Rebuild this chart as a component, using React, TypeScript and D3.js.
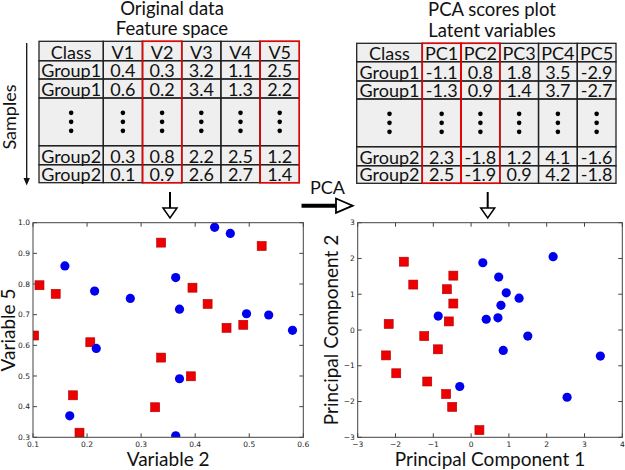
import * as d3 from "d3";

// ---- table data ----
const origTitle = ["Original data", "Feature space"];
const origHeaders = ["Class", "V1", "V2", "V3", "V4", "V5"];
const origRows = [
  ["Group1", "0.4", "0.3", "3.2", "1.1", "2.5"],
  ["Group1", "0.6", "0.2", "3.4", "1.3", "2.2"],
  null,
  ["Group2", "0.3", "0.8", "2.2", "2.5", "1.2"],
  ["Group2", "0.1", "0.9", "2.6", "2.7", "1.4"],
];
const origHighlight = ["V2", "V5"];

const pcaTitle = ["PCA scores plot", "Latent variables"];
const pcaHeaders = ["Class", "PC1", "PC2", "PC3", "PC4", "PC5"];
const pcaRows = [
  ["Group1", "-1.1", "0.8", "1.8", "3.5", "-2.9"],
  ["Group1", "-1.3", "0.9", "1.4", "3.7", "-2.7"],
  null,
  ["Group2", "2.3", "-1.8", "1.2", "4.1", "-1.6"],
  ["Group2", "2.5", "-1.9", "0.9", "4.2", "-1.8"],
];
const pcaHighlight = ["PC1", "PC2"];

// ---- scatter data ----
const var2Group1 = [0.337, 0.523, 0.112, 0.142, 0.395, 0.423, 0.458, 0.489, 0.102, 0.206, 0.337, 0.392, 0.174, 0.326, 0.186];
const var5Group1 = [0.935, 0.924, 0.796, 0.768, 0.788, 0.735, 0.657, 0.667, 0.632, 0.61, 0.56, 0.499, 0.437, 0.398, 0.315];
const var2Group2 = [0.436, 0.465, 0.159, 0.364, 0.214, 0.28, 0.371, 0.495, 0.536, 0.58, 0.217, 0.371, 0.168, 0.364];
const var5Group2 = [0.985, 0.965, 0.859, 0.821, 0.777, 0.753, 0.718, 0.703, 0.699, 0.649, 0.59, 0.491, 0.37, 0.305];

const pc1Group1 = [-1.78, -1.53, -0.47, -0.64, -0.47, -2.18, -0.59, -1.24, -0.88, -2.25, -1.98, -1.16, -0.66, -0.5, 0.22];
const pc2Group1 = [1.91, 1.27, 1.52, 1.14, 0.74, 0.17, 0.24, -0.17, -0.54, -0.71, -1.21, -1.44, -1.79, -2.15, -2.8];
const pc1Group2 = [0.31, 2.17, 0.73, 0.93, 1.27, 0.79, -0.87, 0.4, 0.71, 1.5, 0.85, 3.42, -0.3, 2.54];
const pc2Group2 = [1.88, 2.05, 1.48, 1.04, 0.89, 0.69, 0.39, 0.3, 0.34, -0.17, -0.57, -0.73, -1.58, -1.88];

const leftXTicks = [0.1, 0.2, 0.3, 0.4, 0.5, 0.6];
const leftYTicks = [0.3, 0.4, 0.5, 0.6, 0.7, 0.8, 0.9, 1.0];
const rightXTicks = [-3, -2, -1, 0, 1, 2, 3, 4];
const rightYTicks = [-3, -2, -1, 0, 1, 2, 3];

const FONT = "Lato, 'Open Sans', sans-serif";
const TICK_FONT = "'DejaVu Sans', sans-serif";
const RED = "#ee0000";
const BLUE = "#0000ee";

type TableProps = {
  x0: number;
  classRight: number;
  x1: number;
  top: number;
  rowHeights: number[];
  headers: string[];
  rows: (string[] | null)[];
  highlight: string[];
  title: string[];
  titleX: number;
  titleY: number[];
};

function Table(p: TableProps) {
  const band = d3.scaleBand().domain(p.headers.slice(1)).range([p.classRight, p.x1]);
  const colLeft = (i: number) => (i === 0 ? p.x0 : band(p.headers[i])!);
  const colW = (i: number) => (i === 0 ? p.classRight - p.x0 : band.bandwidth());
  const ys = [p.top];
  p.rowHeights.forEach((h) => ys.push(ys[ys.length - 1] + h));
  const allRows: (string[] | null)[] = [p.headers, ...p.rows];
  const bottom = ys[ys.length - 1];
  return (
    <g>
      {p.title.map((t, i) => (
        <text key={t} x={p.titleX} y={p.titleY[i]} textAnchor="middle" fontFamily={FONT} fontSize={18.5} fill="#111">
          {t}
        </text>
      ))}
      <rect x={p.x0} y={p.top} width={p.x1 - p.x0} height={bottom - p.top} fill="#efefef" />
      {allRows.map((row, r) =>
        p.headers.map((_, c) => {
          const cx = colLeft(c) + colW(c) / 2;
          return (
            <g key={`${r}-${c}`}>
              <rect x={colLeft(c)} y={ys[r]} width={colW(c)} height={ys[r + 1] - ys[r]} fill="none" stroke="#222" strokeWidth={1.3} />
              {row ? (
                <text x={cx} y={ys[r + 1] - 2.2} textAnchor="middle" fontFamily={FONT} fontSize={18} fill="#111">
                  {row[c]}
                </text>
              ) : (
                [-9, 0, 9].map((dy) => (
                  <circle key={dy} cx={cx} cy={(ys[r] + ys[r + 1]) / 2 + dy} r={2.3} fill="#000" />
                ))
              )}
            </g>
          );
        })
      )}
      {p.highlight.map((h) => (
        <rect key={h} x={band(h)} y={p.top} width={band.bandwidth()} height={bottom - p.top} fill="none" stroke={RED} strokeWidth={1.5} />
      ))}
    </g>
  );
}

type ScatterProps = {
  id: string;
  left: number;
  right: number;
  top: number;
  bottom: number;
  xDomain: [number, number];
  yDomain: [number, number];
  xTicks: number[];
  yTicks: number[];
  fmt: (v: number) => string;
  g1x: number[];
  g1y: number[];
  g2x: number[];
  g2y: number[];
  xLabel: string;
  yLabel: string;
  yLabelX: number;
};

function Scatter(p: ScatterProps) {
  const x = d3.scaleLinear().domain(p.xDomain).range([p.left, p.right]);
  const y = d3.scaleLinear().domain(p.yDomain).range([p.bottom, p.top]);
  const tl = 4;
  const s = 9;
  return (
    <g>
      <defs>
        <clipPath id={p.id}>
          <rect x={p.left} y={p.top} width={p.right - p.left} height={p.bottom - p.top} />
        </clipPath>
      </defs>
      <g clipPath={`url(#${p.id})`}>
        {p.g1x.map((v, i) => (
          <rect key={`r${i}`} x={x(v) - s / 2} y={y(p.g1y[i]) - s / 2} width={s} height={s} fill={RED} stroke="#b00000" strokeWidth={0.6} />
        ))}
        {p.g2x.map((v, i) => (
          <circle key={`c${i}`} cx={x(v)} cy={y(p.g2y[i])} r={4.6} fill={BLUE} />
        ))}
      </g>
      <rect x={p.left} y={p.top} width={p.right - p.left} height={p.bottom - p.top} fill="none" stroke="#444" strokeWidth={1} />
      {p.xTicks.map((t) => (
        <g key={`x${t}`}>
          <line x1={x(t)} x2={x(t)} y1={p.bottom} y2={p.bottom - tl} stroke="#444" />
          <line x1={x(t)} x2={x(t)} y1={p.top} y2={p.top + tl} stroke="#444" />
          <text x={x(t)} y={p.bottom + 10} textAnchor="middle" fontFamily={TICK_FONT} fontSize={7.5} fill="#222">
            {p.fmt(t)}
          </text>
        </g>
      ))}
      {p.yTicks.map((t) => (
        <g key={`y${t}`}>
          <line x1={p.left} x2={p.left + tl} y1={y(t)} y2={y(t)} stroke="#444" />
          <line x1={p.right} x2={p.right - tl} y1={y(t)} y2={y(t)} stroke="#444" />
          <text x={p.left - 3} y={y(t) + 2.7} textAnchor="end" fontFamily={TICK_FONT} fontSize={7.5} fill="#222">
            {p.fmt(t)}
          </text>
        </g>
      ))}
      <text x={(p.left + p.right) / 2} y={466} textAnchor="middle" fontFamily={FONT} fontSize={19} fill="#111">
        {p.xLabel}
      </text>
      <text
        transform={`translate(${p.yLabelX},${(p.top + p.bottom) / 2}) rotate(-90)`}
        textAnchor="middle"
        fontFamily={FONT}
        fontSize={19}
        fill="#111"
      >
        {p.yLabel}
      </text>
    </g>
  );
}

function DownArrow({ x, y0, y1 }: { x: number; y0: number; y1: number }) {
  return (
    <g>
      <line x1={x} x2={x} y1={y0} y2={y1 - 10} stroke="#000" strokeWidth={2} />
      <path d={`M${x - 7},${y1 - 10}L${x + 7},${y1 - 10}L${x},${y1}Z`} fill="#fff" stroke="#000" strokeWidth={1.5} />
    </g>
  );
}

export default function App() {
  const fmtDec = d3.format(".1f");
  const fmtInt = (v: number) => d3.format("d")(v).replace("-", "\u2212");
  return (
    <svg width={625} height={470} style={{ position: "absolute", left: 0, top: 0, background: "#fff" }}>
      <Table
        x0={39}
        classRight={103.3}
        x1={299.3}
        top={41.3}
        rowHeights={[19.4, 18.3, 19, 47.7, 19, 18]}
        headers={origHeaders}
        rows={origRows}
        highlight={origHighlight}
        title={origTitle}
        titleX={172}
        titleY={[15, 35]}
      />
      <Table
        x0={356.7}
        classRight={422.3}
        x1={616}
        top={43.3}
        rowHeights={[18.4, 19.3, 18, 47.7, 19, 17.6]}
        headers={pcaHeaders}
        rows={pcaRows}
        highlight={pcaHighlight}
        title={pcaTitle}
        titleX={492}
        titleY={[16, 37]}
      />

      {/* Samples arrow */}
      <line x1={26.7} x2={26.7} y1={43} y2={180} stroke="#111" strokeWidth={1.3} />
      <path d="M23.5,178L29.9,178L26.7,185.5Z" fill="#111" />
      <text transform="translate(15.5,117) rotate(-90)" textAnchor="middle" fontFamily={FONT} fontSize={18} fill="#111">
        Samples
      </text>

      <DownArrow x={170} y0={192} y1={218} />
      <DownArrow x={487.7} y0={192} y1={218} />

      {/* PCA arrow */}
      <text x={310} y={193.5} fontFamily={FONT} fontSize={18} fill="#111">
        PCA
      </text>
      <line x1={301.5} x2={337} y1={205.7} y2={205.7} stroke="#000" strokeWidth={4} />
      <path d="M336,198.5L336,212.9L352.7,205.7Z" fill="#fff" stroke="#000" strokeWidth={1.8} />

      <Scatter
        id="clipL"
        left={33}
        right={303.3}
        top={222.7}
        bottom={437.3}
        xDomain={[0.1, 0.6]}
        yDomain={[0.3, 1.0]}
        xTicks={leftXTicks}
        yTicks={leftYTicks}
        fmt={fmtDec}
        g1x={var2Group1}
        g1y={var5Group1}
        g2x={var2Group2}
        g2y={var5Group2}
        xLabel="Variable 2"
        yLabel="Variable 5"
        yLabelX={15}
      />
      <Scatter
        id="clipR"
        left={357.7}
        right={622.3}
        top={222.7}
        bottom={437.3}
        xDomain={[-3, 4]}
        yDomain={[-3, 3]}
        xTicks={rightXTicks}
        yTicks={rightYTicks}
        fmt={fmtInt}
        g1x={pc1Group1}
        g1y={pc2Group1}
        g2x={pc1Group2}
        g2y={pc2Group2}
        xLabel="Principal Component 1"
        yLabel="Principal Component 2"
        yLabelX={338}
      />
    </svg>
  );
}
